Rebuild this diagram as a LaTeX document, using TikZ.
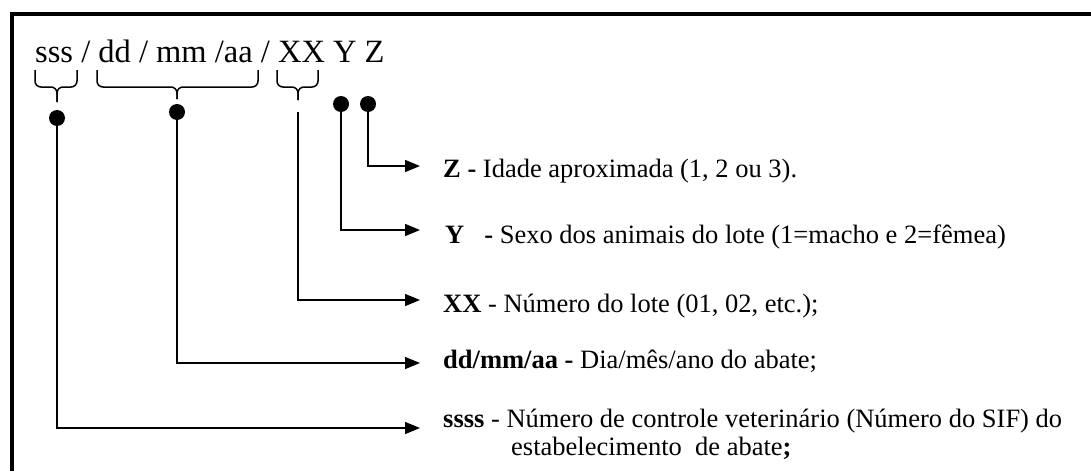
\documentclass[tikz,border=0pt]{standalone}
\usepackage{fontspec}
\setmainfont{Liberation Serif}
\usetikzlibrary{arrows.meta}

\begin{document}
\begin{tikzpicture}[
    x=1pt, y=-1pt,
    dot/.style={circle, fill=black, inner sep=0pt, minimum size=16pt},
    lbl/.style={anchor=base west, inner sep=0pt, font=\fontsize{26.5}{30}\selectfont},
    conn/.style={line width=1.5pt},
    brc/.style={line width=1.5pt, rounded corners=6pt},
    >={Triangle[length=15pt, width=12pt]}
]
    \useasboundingbox (0,0) rectangle (1091,471);

    % 外框 (上边和左边)
    \draw[line width=4pt] (12,471) -- (12,14) -- (1091,14);

    % 标题
    \node[anchor=base west, inner sep=0pt, font=\fontsize{32.5}{38}\selectfont] (title) at (35,62) {sss / dd / mm /aa / XX Y Z};

    % 括号
    \draw[brc] (35,70) -- (35,87) -- (57,87) -- (57,102);
    \draw[brc] (77,70) -- (77,87) -- (57,87) -- (57,102);
    \draw[brc] (97,70) -- (97,87) -- (177,87) -- (177,99);
    \draw[brc] (258,70) -- (258,87) -- (177,87) -- (177,99);
    \draw[brc] (277,70) -- (277,87) -- (298,87) -- (298,100);
    \draw[brc] (318,70) -- (318,87) -- (298,87) -- (298,100);

    % 节点定义 (圆点)
    \node[dot] (dS) at (57,118) {};   % sss
    \node[dot] (dD) at (177,112) {};  % dd/mm/aa
    \coordinate (tX) at (298,112);    % XX
    \node[dot] (dY) at (341,104) {};  % Y
    \node[dot] (dZ) at (368,104) {};  % Z

    % 箭头终点
    \coordinate (eZ) at (420,166);
    \coordinate (eY) at (420,230);
    \coordinate (eX) at (420,300);
    \coordinate (eD) at (420,363);
    \coordinate (eS) at (420,428);

    % 说明文字
    \node[lbl] (lZ) at (443,177) {\textbf{Z -} Idade aproximada (1, 2 ou 3).};
    \node[lbl] (lY) at (445,243) {\textbf{Y}\hspace{20pt}\textbf{-} Sexo dos animais do lote (1=macho e 2=fêmea)};
    \node[lbl] (lX) at (443,312) {\textbf{XX} - Número do lote (01, 02, etc.);};
    \node[lbl] (lD) at (443,368) {\textbf{dd/mm/aa -} Dia/mês/ano do abate;};
    \node[lbl] (lS) at (443,427) {\textbf{ssss} - Número de controle veterinário (Número do SIF) do};
    \node[lbl] (lS2) at (511,455) {estabelecimento\ \ de abate\textbf{;}};

    % 连接线
    \draw[conn, ->] (dZ) |- (eZ);
    \draw[conn, ->] (dY) |- (eY);
    \draw[conn, ->] (tX) |- (eX);
    \draw[conn, ->] (dD) |- (eD);
    \draw[conn, ->] (dS) |- (eS);

\end{tikzpicture}
\end{document}
